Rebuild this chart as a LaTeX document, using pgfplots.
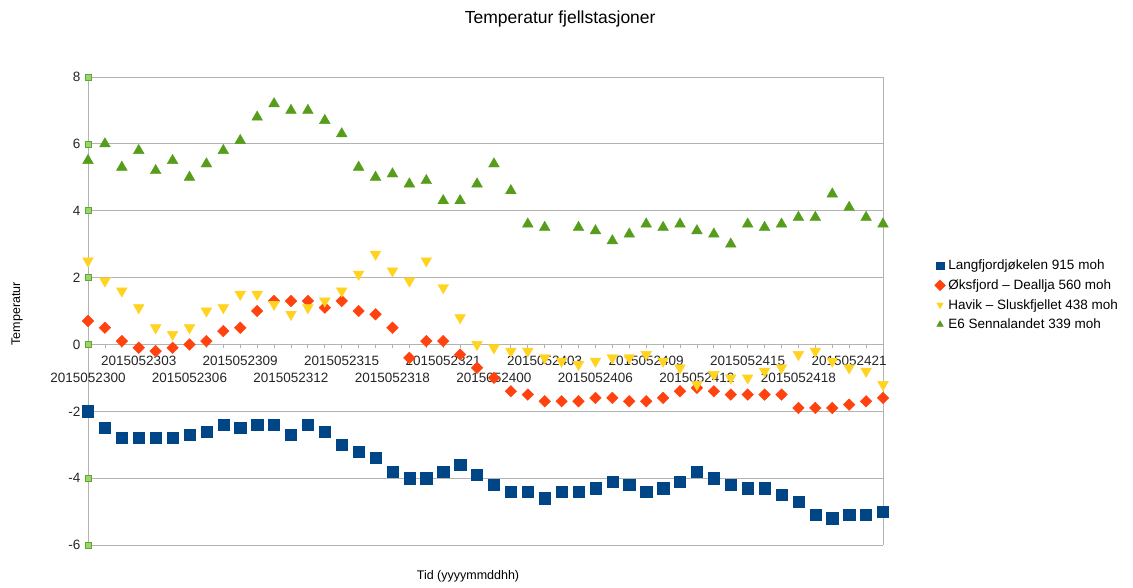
\documentclass[border=0pt]{standalone}
\usepackage{fontspec}
\setmainfont{Liberation Sans}
\usepackage{pgfplots}
\pgfplotsset{compat=1.18}
\definecolor{sBlue}{HTML}{004586}
\definecolor{sOrange}{HTML}{FF420E}
\definecolor{sYellow}{HTML}{FFD320}
\definecolor{sGreen}{HTML}{579D1C}
\definecolor{gridgray}{HTML}{B3B3B3}
\definecolor{tickfill}{HTML}{9BD46A}
\definecolor{tickdraw}{HTML}{5EA82E}
\begin{document}
\begin{tikzpicture}
\useasboundingbox (0,0) rectangle (1133pt,-587pt);
\begin{axis}[
  at={(88pt,-545pt)}, anchor=south west,
  scale only axis, width=795pt, height=468pt,
  xmin=0, xmax=47, ymin=-6, ymax=8,
  clip=false,
  axis x line=middle, axis y line=box,
  axis line style={gridgray, line width=0.8pt, -},
  xtick={3,9,...,45},
  xticklabels={2015052303,2015052309,2015052315,2015052321,2015052403,2015052409,2015052415,2015052421},
  xticklabel style={yshift=-4pt},
  extra x ticks={0,6,...,42},
  extra x tick labels={2015052300,2015052306,2015052312,2015052318,2015052400,2015052406,2015052412,2015052418},
  extra x tick style={xticklabel style={yshift=-17pt}},
  minor xtick={0,...,47},
  xtick align=outside,
  major tick length=4pt, minor tick length=4pt,
  x tick style={gridgray, line width=0.8pt},
  ytick={-6,-4,...,8},
  ytick style={draw=none},
  ymajorgrids, grid style={gridgray, line width=0.8pt},
  yticklabel style={xshift=-4pt},
  tick label style={font=\fontsize{13.5}{16}\selectfont, text=black!85},
  /pgf/number format/assume math mode=true,
  title={Temperatur fjellstasjoner},
  title style={at={(axis description cs:0.594,1.111)}, anchor=center, font=\fontsize{17.5}{20}\selectfont},
  xlabel={Tid (yyyymmddhh)},
  xlabel style={at={(axis description cs:0.478,-0.066)}, anchor=center, font=\fontsize{12.5}{15}\selectfont},
  ylabel={Temperatur},
  ylabel style={at={(axis description cs:-0.089,0.494)}, anchor=center, rotate=0, font=\fontsize{12.5}{15}\selectfont},
  legend style={draw=none, fill=none, at={(axis description cs:1.061,0.534)}, anchor=west,
    font=\fontsize{13.5}{16}\selectfont, row sep=4.3pt,
    /tikz/every odd column/.style={column sep=1pt}},
  legend cell align=left,
  legend image code/.code={\draw[#1, mark size=3.8pt] plot coordinates {(0pt,0pt)};},
]
\addplot[forget plot, only marks, mark=square*, mark size=3pt, mark options={fill=tickfill, draw=tickdraw, line width=0.6pt}]
  coordinates {(0,-6) (0,-4) (0,-2) (0,0) (0,2) (0,4) (0,6) (0,8)};

\addplot[only marks, mark=square*, mark size=5.6pt, color=sBlue] coordinates {
(0,-2.0) (1,-2.5) (2,-2.8) (3,-2.8) (4,-2.8) (5,-2.8) (6,-2.7) (7,-2.6) (8,-2.4) (9,-2.5)
(10,-2.4) (11,-2.4) (12,-2.7) (13,-2.4) (14,-2.6) (15,-3.0) (16,-3.2) (17,-3.4) (18,-3.8) (19,-4.0)
(20,-4.0) (21,-3.8) (22,-3.6) (23,-3.9) (24,-4.2) (25,-4.4) (26,-4.4) (27,-4.6) (28,-4.4) (29,-4.4)
(30,-4.3) (31,-4.1) (32,-4.2) (33,-4.4) (34,-4.3) (35,-4.1) (36,-3.8) (37,-4.0) (38,-4.2) (39,-4.3)
(40,-4.3) (41,-4.5) (42,-4.7) (43,-5.1) (44,-5.2) (45,-5.1) (46,-5.1) (47,-5.0)};
\addlegendentry{Langfjordjøkelen 915 moh}

\addplot[only marks, mark=square*, mark size=4.1pt, mark options={rotate=45}, color=sOrange] coordinates {
(0,0.7) (1,0.5) (2,0.1) (3,-0.1) (4,-0.2) (5,-0.1) (6,0.0) (7,0.1) (8,0.4) (9,0.5)
(10,1.0) (11,1.3) (12,1.3) (13,1.3) (14,1.1) (15,1.3) (16,1.0) (17,0.9) (18,0.5) (19,-0.4)
(20,0.1) (21,0.1) (22,-0.3) (23,-0.7) (24,-1.0) (25,-1.4) (26,-1.5) (27,-1.7) (28,-1.7) (29,-1.7)
(30,-1.6) (31,-1.6) (32,-1.7) (33,-1.7) (34,-1.6) (35,-1.4) (36,-1.3) (37,-1.4) (38,-1.5) (39,-1.5)
(40,-1.5) (41,-1.5) (42,-1.9) (43,-1.9) (44,-1.9) (45,-1.8) (46,-1.7) (47,-1.6)};
\addlegendentry{Øksfjord – Deallja 560 moh}

\addplot[only marks, mark=triangle*, mark size=6.2pt, mark options={rotate=180}, color=sYellow] coordinates {
(0,2.5) (1,1.9) (2,1.6) (3,1.1) (4,0.5) (5,0.3) (6,0.5) (7,1.0) (8,1.1) (9,1.5)
(10,1.5) (11,1.2) (12,0.9) (13,1.1) (14,1.3) (15,1.6) (16,2.1) (17,2.7) (18,2.2) (19,1.9)
(20,2.5) (21,1.7) (22,0.8) (23,0.0) (24,-0.1) (25,-0.2) (26,-0.2) (27,-0.4) (28,-0.5) (29,-0.6)
(30,-0.5) (31,-0.4) (32,-0.4) (33,-0.3) (34,-0.5) (35,-0.7) (36,-1.2) (37,-0.9) (38,-1.0) (39,-1.0)
(40,-0.8) (41,-0.7) (42,-0.3) (43,-0.2) (44,-0.5) (45,-0.7) (46,-0.8) (47,-1.2)};
\addlegendentry{Havik – Sluskfjellet 438 moh}

\addplot[only marks, mark=triangle*, mark size=6.2pt, color=sGreen] coordinates {
(0,5.5) (1,6.0) (2,5.3) (3,5.8) (4,5.2) (5,5.5) (6,5.0) (7,5.4) (8,5.8) (9,6.1)
(10,6.8) (11,7.2) (12,7.0) (13,7.0) (14,6.7) (15,6.3) (16,5.3) (17,5.0) (18,5.1) (19,4.8)
(20,4.9) (21,4.3) (22,4.3) (23,4.8) (24,5.4) (25,4.6) (26,3.6) (27,3.5) (29,3.5)
(30,3.4) (31,3.1) (32,3.3) (33,3.6) (34,3.5) (35,3.6) (36,3.4) (37,3.3) (38,3.0) (39,3.6)
(40,3.5) (41,3.6) (42,3.8) (43,3.8) (44,4.5) (45,4.1) (46,3.8) (47,3.6)};
\addlegendentry{E6 Sennalandet 339 moh}
\end{axis}
\end{tikzpicture}
\end{document}
